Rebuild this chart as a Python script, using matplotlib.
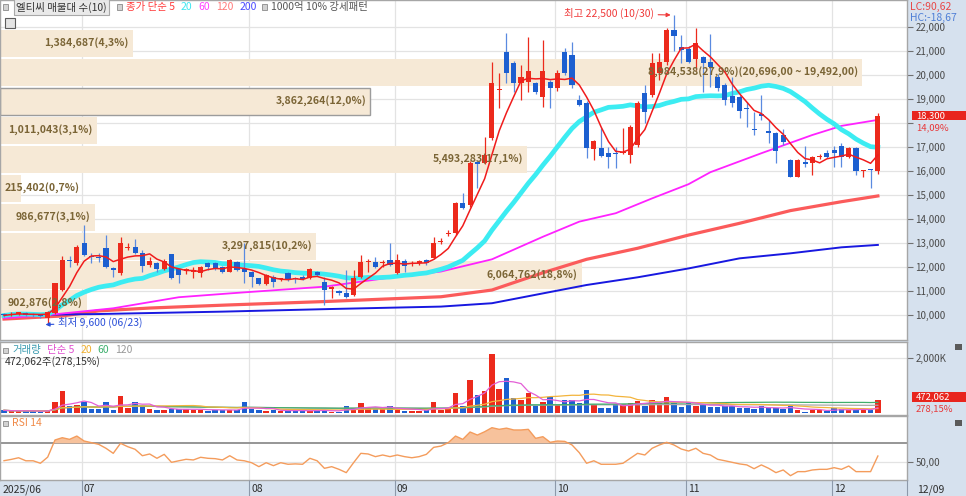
"""Daily chart of 엘티씨: candles with volume profile bands, volume and RSI panels."""
import matplotlib
matplotlib.use("Agg")
import matplotlib.pyplot as plt
import matplotlib.transforms as mtransforms
from matplotlib.patches import Rectangle
import numpy as np
import pandas as pd

plt.rcParams["font.family"] = ["Noto Sans CJK KR", "DejaVu Sans"]

# ---- values ----------------------------------------------------------------
opens = [10050, 9980, 10060, 10090, 10030, 10000, 9870, 10100, 11040, 12290,
         12150, 12990, 12460, 12400, 12780, 11950, 11740, 12800, 12850, 12600,
         12080, 12150, 11920, 12540, 11900, 11850, 11800, 11760, 12170, 12170,
         12010, 11810, 12220, 11900, 11800, 11530, 11290, 11600, 11480, 11740,
         11560, 11600, 11560, 11810, 11390, 11080, 10980, 10900, 10830, 11600,
         12200, 12220, 12150, 12290, 11760, 12260, 12120, 12180, 12290, 12360,
         13030, 13380, 13400, 14650, 14580, 16360, 16320, 17360, 19380, 20970,
         20510, 19680, 19720, 19650, 19100, 19720, 19450, 20970, 20830, 18960,
         18850, 16900, 16950, 16760, 16720, 16760, 16670, 17080, 19260, 19170,
         20100, 20550, 21880, 21150, 21070, 20650, 20740, 20550, 19930, 19580,
         19130, 19070, 18640, 17730, 18340, 17680, 17570, 17500, 16460, 15760,
         16390, 16350, 16580, 16740, 16880, 17040, 16570, 16950, 15990, 16060,
         16000]
closes = [9980, 10060, 10090, 10020, 9990, 9950, 10120, 11320, 12290, 12250,
          12850, 12500, 12400, 12360, 11990, 11880, 12990, 12850, 12600, 12040,
          12250, 11900, 12250, 11560, 11670, 11900, 11880, 12010, 12000, 11910,
          11810, 12290, 11880, 11810, 11570, 11290, 11670, 11390, 11530, 11490,
          11490, 11490, 11900, 11670, 11040, 11150, 10930, 10740, 11530, 12220,
          12240, 11990, 12200, 12080, 12290, 12040, 12160, 12230, 12150, 12990,
          13070, 13420, 14650, 14450, 16320, 16300, 16670, 19650, 19420, 20100,
          19680, 19930, 20180, 19300, 20180, 19450, 20070, 20070, 19580, 18750,
          16950, 17260, 16620, 16570, 16690, 16800, 17850, 18820, 18470, 20510,
          20550, 21880, 21620, 21040, 20550, 21350, 20490, 20350, 19450, 18960,
          18850, 18510, 18600, 17700, 18310, 17570, 16850, 17220, 15760, 16460,
          16290, 16570, 16620, 16600, 16760, 16570, 16950, 16010, 16030, 16040,
          18300]
highs = [10100, 10120, 10140, 10120, 10080, 10050, 10160, 11350, 12460, 12460,
         12900, 13750, 12600, 12600, 13330, 12000, 13260, 12990, 13150, 12700,
         12400, 12200, 12350, 12560, 11920, 11950, 11980, 12050, 12220, 12220,
         12050, 12330, 12250, 12990, 11820, 11560, 11700, 11650, 11560, 11780,
         11600, 11650, 11950, 11850, 11600, 11200, 11050, 11880, 11880, 12500,
         12350, 12400, 12300, 12990, 12540, 12350, 12250, 12280, 12320, 13260,
         13200, 13550, 14700, 15070, 16400, 16400, 17430, 20550, 20070, 21760,
         20600, 20420, 21600, 19700, 21460, 19800, 20200, 21110, 21390, 19170,
         18900, 17280, 17780, 17010, 17010, 17780, 17900, 18900, 19580, 20900,
         20900, 21950, 22500, 21670, 21200, 21950, 20800, 21710, 20050, 19650,
         19930, 19150, 18890, 18470, 19170, 18130, 17620, 17740, 16500, 16480,
         17040, 16620, 16700, 16880, 17040, 17150, 17010, 17000, 16060, 16080,
         18400]
lows = [9930, 9950, 10000, 9960, 9930, 9860, 9600, 10050, 11000, 12000,
        12100, 12460, 12150, 12200, 11950, 11600, 11650, 12700, 12550, 11800,
        12000, 11800, 11880, 11480, 11320, 11700, 11550, 11580, 11880, 11870,
        11760, 11780, 11850, 11320, 11150, 11250, 11250, 11180, 11420, 11400,
        11320, 11450, 11520, 11620, 10420, 10700, 10850, 10700, 10800, 11560,
        11800, 11950, 12000, 12040, 11720, 11810, 12050, 12100, 12100, 12320,
        12950, 13300, 13350, 14400, 14500, 15280, 16280, 17300, 18610, 19650,
        19300, 18960, 19300, 19200, 18650, 18610, 19350, 20000, 19450, 18700,
        16530, 16460, 16580, 16110, 16110, 16700, 16320, 17000, 17990, 19100,
        19800, 20400, 21000, 20490, 20490, 20210, 19300, 19510, 19350, 18750,
        18650, 18200, 17850, 17500, 18130, 17150, 16320, 17100, 15730, 15730,
        16180, 15830, 16520, 16560, 16180, 16180, 16540, 15830, 15760, 15280,
        15880]
volumes = [97000, 73000, 73000, 73000, 73000, 48000, 97000, 412000, 788000, 267000,
           291000, 412000, 145000, 145000, 412000, 121000, 630000, 170000, 412000, 267000,
           145000, 121000, 121000, 145000, 145000, 145000, 121000, 121000, 73000, 121000,
           121000, 121000, 97000, 412000, 145000, 97000, 73000, 97000, 73000, 97000,
           97000, 73000, 73000, 97000, 121000, 48000, 48000, 267000, 170000, 364000,
           170000, 145000, 145000, 267000, 145000, 73000, 73000, 73000, 121000, 412000,
           121000, 170000, 727000, 267000, 1188000, 667000, 788000, 2158000, 885000, 1273000,
           545000, 485000, 727000, 242000, 412000, 582000, 303000, 485000, 460000, 364000,
           848000, 303000, 170000, 170000, 339000, 339000, 364000, 436000, 267000, 485000,
           364000, 582000, 364000, 218000, 412000, 242000, 339000, 218000, 218000, 242000,
           267000, 194000, 194000, 145000, 267000, 170000, 170000, 145000, 242000, 121000,
           48000, 121000, 97000, 73000, 170000, 145000, 97000, 121000, 121000, 124835,
           472062]
rsi14 = [51.1, 52.5, 54.3, 51.0, 51.0, 48.3, 55.0, 73.6, 76.1, 74.3,
         77.9, 72.5, 70.7, 68.9, 64.6, 59.1, 70.0, 66.3, 63.5, 56.5,
         58.4, 53.7, 58.0, 49.3, 51.0, 52.6, 51.9, 54.8, 53.7, 53.3,
         51.9, 56.5, 51.9, 51.0, 48.9, 44.6, 48.9, 45.7, 48.9, 47.2,
         47.6, 47.2, 53.7, 51.0, 42.8, 44.6, 41.7, 38.1, 48.9, 59.1,
         58.4, 55.5, 57.3, 55.5, 57.3, 55.5, 54.3, 55.5, 58.0, 65.6,
         67.0, 70.7, 77.9, 74.3, 82.3, 79.0, 82.6, 87.0, 85.2, 86.5,
         84.5, 84.5, 85.2, 75.4, 77.2, 71.1, 72.5, 72.1, 68.2, 59.8,
         48.3, 51.0, 47.2, 47.2, 47.2, 48.3, 53.7, 59.1, 57.3, 64.6,
         68.2, 71.1, 68.2, 63.8, 61.6, 64.6, 59.1, 57.3, 52.6, 51.0,
         49.3, 47.6, 46.5, 42.4, 46.5, 42.8, 38.1, 41.0, 34.8, 39.2,
         39.2, 41.0, 41.7, 41.7, 43.5, 41.7, 45.3, 39.2, 39.2, 39.2,
         56.2]

ma60_idx = [0, 6, 15, 24, 31, 44, 49, 54, 60, 67, 74, 79, 84, 89, 94, 97, 104, 111, 115, 120]
ma60_val = [9870, 10000, 10280, 10740, 10900, 11180, 11390, 11600, 11810, 12320,
            13260, 13890, 14240, 14860, 15450, 15950, 16740, 17500, 17880, 18130]
ma120_idx = [0, 8, 13, 20, 31, 44, 60, 67, 74, 80, 87, 94, 101, 108, 115, 120]
ma120_val = [9830, 9960, 10170, 10290, 10420, 10560, 10760, 11040, 11760, 12320,
             12780, 13330, 13820, 14350, 14720, 14960]
ma200_idx = [0, 13, 30, 45, 60, 67, 74, 80, 87, 94, 101, 108, 115, 120]
ma200_val = [9990, 10040, 10140, 10250, 10350, 10490, 10900, 11250, 11570, 11940,
             12360, 12570, 12820, 12920]

# volume-at-price bands (엘티씨 매물대, 10 bands), bottom band first
profile_low = 9860
profile_step = 1204
profile_vol = [902876, 6064762, 3297815, 986677, 215402, 5493283, 1011043,
               3862264, 8984538, 1384687]

month_start = [11, 34, 54, 76, 94, 114]
month_labels = ["07", "08", "09", "10", "11", "12"]
first_label = "2025/06"
last_label = "12/09"
low_date = "06/23"
high_date = "10/30"

# ---- style -------------------------------------------------------------------
W, H = 966, 496
PLOT_R = 907
UP = "#ec2a1c"
DOWN = "#1c5fd0"
DOWN_WICK = "#5a8ae0"
GRID = "#e3e3e3"
STRIP = "#d6e1ee"
EDGE = "#a6a6a6"
TXT = "#4a4a4a"
X0, X1 = -0.55, 124.0


def dec(v, fmt=".2f"):
    # the HTS font draws the decimal point like a comma
    return format(v, fmt).replace(".", ",")


fig = plt.figure(figsize=(W / 100, H / 100), dpi=100)
fig.patch.set_facecolor(STRIP)
renderer = fig.canvas.get_renderer()


def add_panel(top, bottom):
    a = fig.add_axes([0, 1 - bottom / H, PLOT_R / W, (bottom - top) / H])
    a.set_facecolor("white")
    for s in a.spines.values():
        s.set_color(EDGE)
        s.set_linewidth(1.0)
    a.set_xlim(X0, X1)
    a.set_axisbelow(True)
    a.yaxis.tick_right()
    a.set_xticks([m - 0.3 for m in month_start])
    a.tick_params(axis="x", length=0, labelbottom=False)
    a.tick_params(axis="y", direction="out", length=4, width=0.8, color="#707070",
                  labelsize=7, labelcolor=TXT, pad=2)
    a.grid(True, color=GRID, lw=0.9)
    return a


def bullet(xp, yp):
    fig.add_artist(Rectangle((xp / W, 1 - (yp + 2.5) / H), 5 / W, 5 / H,
                             transform=fig.transFigure, fc="#d2d2d2", ec="#8a8a8a", lw=0.6))


def text_row(xp, yp, pieces, size=7.5):
    for s, color, gap in pieces:
        if s is None:
            bullet(xp, yp)
            xp += 5 + gap
            continue
        t = fig.text(xp / W, 1 - yp / H, s, color=color, fontsize=size, ha="left", va="center")
        xp = t.get_window_extent(renderer).x1 + gap
    return xp


x = np.arange(len(closes))
o, h, l, c = (np.array(v, dtype=float) for v in (opens, highs, lows, closes))
up = c >= o
bar_colors = np.where(up, UP, DOWN)

# ---- price panel -------------------------------------------------------------
ax = add_panel(0, 340)
ax.set_ylim(8958, 23125)
ticks = list(range(10000, 22001, 1000))
ax.set_yticks(ticks)
# the current-price tag covers the tick label next to it
ax.set_yticklabels(["" if abs(t - closes[-1]) < 500 else f"{t:,}" for t in ticks])

blend = mtransforms.blended_transform_factory(ax.transAxes, ax.transData)
band_lo = profile_low + profile_step * np.arange(len(profile_vol))
band_frac = np.array(profile_vol) / max(profile_vol) * 0.95
cur = int(np.searchsorted(band_lo, closes[-1], side="right") - 1)
ax.barh(band_lo + profile_step / 2, band_frac, height=profile_step - 70, left=0,
        color="#f6e9d6", edgecolor=["#9c9c9c" if k == cur else "none" for k in range(len(band_lo))],
        linewidth=1.0, transform=blend, zorder=1)
total = sum(profile_vol)
top_k = int(np.argmax(profile_vol))
for k, (lo, frac, v) in enumerate(zip(band_lo, band_frac, profile_vol)):
    label = f"{v:,}({dec(v / total * 100, '.1f')}%)"
    if k == top_k:
        label += f"({dec(lo + profile_step, ',.2f')} ~ {dec(lo, ',.2f')})"
    t = ax.text(frac - 4 / PLOT_R, lo + profile_step / 2, label, transform=blend,
                ha="right", va="center", fontsize=7.6, fontweight="bold",
                color="#7b6536", zorder=5)
    if t.get_window_extent(renderer).x0 < 3:
        t.set_ha("left")
        t.set_x(5 / PLOT_R)

ax.plot(ma120_idx, ma120_val, color="#fb5b5b", lw=2.3, zorder=2)
ax.plot(ma200_idx, ma200_val, color="#1818e0", lw=1.4, zorder=2)
ax.plot(ma60_idx, ma60_val, color="#ff22ff", lw=1.3, zorder=2.1)
cs = pd.Series(closes, dtype=float)
ax.plot(x, cs.rolling(20, min_periods=1).mean(), color="#3cecf2", lw=3.4, zorder=2.5)

ax.vlines(x[up], l[up], h[up], color=UP, lw=0.9, zorder=3)
ax.vlines(x[~up], l[~up], h[~up], color=DOWN_WICK, lw=0.9, zorder=3)
ax.bar(x, np.maximum(np.abs(c - o), 45), bottom=np.minimum(o, c), width=0.7,
       color=bar_colors, linewidth=0, zorder=3.2)
ax.plot(x, cs.rolling(5, min_periods=1).mean(), color="#f01c1c", lw=1.1, zorder=4)

ih = int(np.argmax(highs))
il = int(np.argmin(lows))
ax.annotate(f"최고 {highs[ih]:,} ({high_date})", xy=(ih - 0.45, highs[ih]), xytext=(-12, 1),
            textcoords="offset points", ha="right", va="center", fontsize=7.5, color="#f03a3a",
            arrowprops=dict(arrowstyle="-|>", color="#f03a3a", lw=0.8, mutation_scale=6,
                            shrinkA=1, shrinkB=0), zorder=6)
ax.annotate(f"최저 {lows[il]:,} ({low_date})", xy=(il - 0.3, lows[il]), xytext=(9, 1.5),
            textcoords="offset points", ha="left", va="center", fontsize=7.5, color="#2a4fd8",
            arrowprops=dict(arrowstyle="-|>", color="#2a4fd8", lw=0.8, mutation_scale=6,
                            shrinkA=1, shrinkB=0), zorder=6)

# current price tag in the right strip
price_px = (23125 - 8958) / 340
ax.add_patch(Rectangle((1 + 5 / PLOT_R, closes[-1] - 4.6 * price_px), 54 / PLOT_R, 9.6 * price_px,
                       transform=blend, fc="#e8251e", ec="none", clip_on=False, zorder=6))
ax.text(1 + 9 / PLOT_R, closes[-1], f"{closes[-1]:,}", transform=blend, color="white",
        fontsize=6.8, va="center", ha="left", clip_on=False, zorder=7)
chg = (closes[-1] / closes[-2] - 1) * 100
ax.text(1 + 9 / PLOT_R, closes[-1] - 12 * price_px, f"{dec(chg)}%", transform=blend,
        color="#e8383a", fontsize=6.8, va="center", ha="left", clip_on=False, zorder=7)

# ---- volume panel ------------------------------------------------------------
axv = add_panel(342, 415)
axv.set_ylim(-73000, 2582000)
axv.set_yticks([2000000])
axv.set_yticklabels([f"{2000000 / 1000:,.0f}K"])
axv.bar(x, volumes, width=0.75, color=bar_colors, linewidth=0, zorder=2)
vs = pd.Series(volumes, dtype=float)
for n, col in ((120, "#a8a8a8"), (60, "#40ae6c"), (20, "#f3b43c"), (5, "#e35fd6")):
    axv.plot(x, vs.rolling(n, min_periods=1).mean(), color=col, lw=0.9, zorder=3)
vblend = mtransforms.blended_transform_factory(axv.transAxes, axv.transData)
vol_px = (2582000 + 73000) / 73
axv.add_patch(Rectangle((1 + 5 / PLOT_R, volumes[-1] - 2 * vol_px), 54 / PLOT_R, 10 * vol_px,
                        transform=vblend, fc="#e8251e", ec="none", clip_on=False, zorder=6))
axv.text(1 + 9 / PLOT_R, volumes[-1] + 3 * vol_px, f"{volumes[-1]:,}", transform=vblend,
         color="white", fontsize=6.8, va="center", ha="left", clip_on=False, zorder=7)
vchg = (volumes[-1] / volumes[-2] - 1) * 100
axv.text(1 + 9 / PLOT_R, volumes[-1] - 8.5 * vol_px, f"{dec(vchg)}%", transform=vblend,
         color="#e8383a", fontsize=6.8, va="center", ha="left", clip_on=False, zorder=7)

# ---- RSI panel ---------------------------------------------------------------
axr = add_panel(416, 480)
axr.set_ylim(30.1, 99.7)
axr.set_yticks([50])
axr.set_yticklabels([dec(50)])
rsi = np.array(rsi14)
axr.fill_between(x, rsi, 70, where=rsi >= 70, interpolate=True, color="#f7c29c", lw=0, zorder=2)
axr.axhline(70, color="#8e8e8e", lw=1.3, zorder=1.5)
axr.plot(x, rsi, color="#f49c5c", lw=1.0, zorder=3)

# ---- date strip --------------------------------------------------------------
axd = fig.add_axes([0, 0, 1, 16 / H])
axd.set_xlim(X0, X0 + (X1 - X0) * W / PLOT_R)
axd.set_ylim(0, 1)
axd.axis("off")
axd.vlines([m - 0.3 for m in month_start] + [X1], 0, 1, color="#8d99aa", lw=0.8)
for m, lab in zip(month_start, month_labels):
    axd.text(m - 0.05, 0.42, lab, fontsize=7.5, color="#2e2e2e", va="center", ha="left")
axd.text(X0 + 0.4, 0.42, first_label, fontsize=7.5, color="#2e2e2e", va="center", ha="left")
axd.text(X1 + 1.4, 0.42, last_label, fontsize=7.5, color="#2e2e2e", va="center", ha="left")

# ---- legends and headers -----------------------------------------------------
bullet(3, 7)
t = fig.text(16 / W, 1 - 7 / H, "엘티씨 매물대 수(10)", fontsize=7.5, color="#333333",
             ha="left", va="center",
             bbox=dict(boxstyle="square,pad=0.22", fc="#e9e9e9", ec="#a9a9a9", lw=0.8))
xp = t.get_window_extent(renderer).x1 + 10
text_row(xp, 7, [(None, None, 4), ("종가 단순 5", "#ff3b3b", 6), ("20", "#3ee6f0", 6),
                 ("60", "#ff40ff", 6), ("120", "#ff7a7a", 6), ("200", "#4a4aff", 5),
                 (None, None, 4), ("1000억 10% 강세패턴", "#555555", 0)])
fig.add_artist(Rectangle((5 / W, 1 - 28 / H), 10 / W, 10 / H, transform=fig.transFigure,
                         fc="#e4e4e4", ec="#5c5c5c", lw=0.8))

lc = (closes[-1] / min(lows) - 1) * 100
hc = (closes[-1] / max(highs) - 1) * 100
fig.text(910 / W, 1 - 7 / H, f"LC:{dec(lc)}", fontsize=7.5, color="#e84848", ha="left", va="center")
fig.text(910 / W, 1 - 18 / H, f"HC:{dec(hc)}", fontsize=7.5, color="#4f7fd6", ha="left", va="center")

text_row(3, 350, [(None, None, 4), ("거래량", "#3a9bb0", 6), ("단순 5", "#e050d0", 6),
                  ("20", "#f0b030", 6), ("60", "#3daf6d", 6), ("120", "#999999", 0)])
fig.text(5 / W, 1 - 362 / H, f"{volumes[-1]:,}주({dec(vchg)}%)", fontsize=7.5,
         color="#333333", ha="left", va="center")
text_row(3, 423, [(None, None, 4), ("RSI 14", "#f08a48", 0)])

for yp in (344, 420):
    fig.add_artist(Rectangle((955 / W, 1 - (yp + 6) / H), 7 / W, 6 / H,
                             transform=fig.transFigure, fc="#5a5a5a", ec="none"))

fig.savefig("out.png", dpi=100, facecolor=fig.get_facecolor())
